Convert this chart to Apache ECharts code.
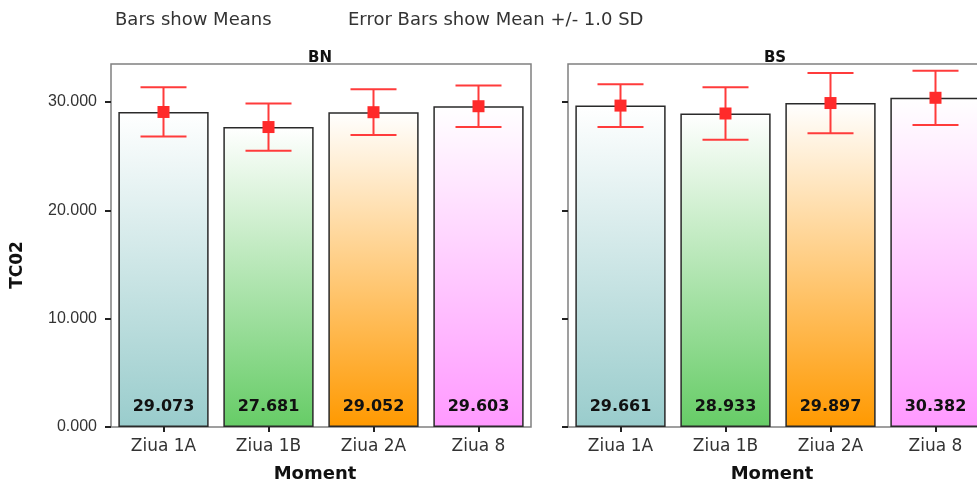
<!DOCTYPE html>
<html>
<head>
<meta charset="utf-8">
<script src="https://cdn.jsdelivr.net/npm/echarts@6/dist/echarts.min.js"></script>
<style>
  html, body { margin: 0; padding: 0; background: #fff; }
  #chart { width: 977px; height: 487px; }
</style>
</head>
<body>
<div id="chart"></div>
<script>
// Categories and per-panel statistics (means and standard deviations of TC02)
const moments = ['Ziua 1A', 'Ziua 1B', 'Ziua 2A', 'Ziua 8'];
const panelNames = ['BN', 'BS'];
const meansBN = [29.073, 27.681, 29.052, 29.603];
const sdBN = [2.27, 2.18, 2.11, 1.91];
const meansBS = [29.661, 28.933, 29.897, 30.382];
const sdBS = [1.97, 2.42, 2.78, 2.50];
const yTicks = [0, 10, 20, 30];

const barColors = ['#99cccc', '#66cc66', '#ff9900', '#ff99ff'];
const FONT = '"DejaVu Sans", Verdana, sans-serif';
const TICK_FONT = '"Liberation Sans", Arial, sans-serif';

function gradient(c) {
  return new echarts.graphic.LinearGradient(0, 0, 0, 1, [
    { offset: 0, color: '#ffffff' },
    { offset: 1, color: c }
  ]);
}

function barData(means) {
  return means.map((v, i) => ({
    value: v,
    itemStyle: { color: gradient(barColors[i]) }
  }));
}

function errData(means, sds) {
  return means.map((m, i) => [i, m, sds[i]]);
}

// Error bar: vertical whisker with caps at mean +/- 1 SD and a square marker at the mean
function renderErr(params, api) {
  const x = api.value(0);
  const m = api.value(1);
  const s = api.value(2);
  const top = api.coord([x, m + s]);
  const bot = api.coord([x, m - s]);
  const mid = api.coord([x, m]);
  const cap = 23;
  const line = { stroke: '#ff3b3b', lineWidth: 2 };
  return {
    type: 'group',
    children: [
      { type: 'line', shape: { x1: top[0], y1: top[1], x2: bot[0], y2: bot[1] }, style: line },
      { type: 'line', shape: { x1: top[0] - cap, y1: top[1], x2: top[0] + cap, y2: top[1] }, style: line },
      { type: 'line', shape: { x1: bot[0] - cap, y1: bot[1], x2: bot[0] + cap, y2: bot[1] }, style: line },
      { type: 'rect', shape: { x: mid[0] - 6, y: mid[1] - 6, width: 12, height: 12 }, style: { fill: '#ff2a2a' } }
    ]
  };
}

const grids = [
  { left: 111, top: 64, width: 420, height: 363 },
  { left: 568, top: 64, width: 420, height: 363 }
];

const chart = echarts.init(document.getElementById('chart'), null, { renderer: 'canvas' });

const xAxes = grids.map((g, i) => ({
  type: 'category',
  gridIndex: i,
  data: moments,
  name: 'Moment',
  nameLocation: 'middle',
  nameGap: 38,
  nameTextStyle: { fontFamily: FONT, fontWeight: 'bold', fontSize: 18, color: '#111', padding: [0, 12, 0, 0] },
  axisLine: { show: false },
  axisTick: { show: true, alignWithLabel: true, length: 5, lineStyle: { color: '#222', width: 2 } },
  axisLabel: { fontFamily: FONT, fontSize: 17, color: '#333', margin: 11 }
}));

const yAxes = grids.map((g, i) => ({
  type: 'value',
  gridIndex: i,
  min: 0,
  max: 33.5,
  interval: 10,
  axisLine: { show: false },
  splitLine: { show: false },
  axisTick: { show: true, length: 6, customValues: yTicks, lineStyle: { color: '#222', width: 2 } },
  axisLabel: {
    show: i === 0,
    customValues: yTicks,
    fontFamily: TICK_FONT, fontSize: 16, color: '#333', margin: 14,
    formatter: v => v.toFixed(3)
  }
}));

const series = [];
[meansBN, meansBS].forEach((means, i) => {
  const sds = i === 0 ? sdBN : sdBS;
  series.push({
    type: 'bar',
    xAxisIndex: i,
    yAxisIndex: i,
    data: barData(means),
    barCategoryGap: '14%',
    itemStyle: { borderColor: '#2a2a2a', borderWidth: 1.5 },
    label: {
      show: true,
      position: 'insideBottom',
      distance: 12,
      fontFamily: FONT,
      fontWeight: 'bold',
      fontSize: 16,
      color: '#111',
      formatter: p => p.value.toFixed(3)
    },
    silent: true
  });
  series.push({
    type: 'custom',
    xAxisIndex: i,
    yAxisIndex: i,
    data: errData(means, sds),
    renderItem: renderErr,
    z: 5,
    silent: true
  });
});

chart.setOption({
  animation: false,
  backgroundColor: '#ffffff',
  grid: grids.map(g => Object.assign({
    show: true, borderColor: '#808080', borderWidth: 1.5,
    backgroundColor: 'transparent', outerBoundsMode: 'none', containLabel: false
  }, g)),
  xAxis: xAxes,
  yAxis: yAxes,
  series: series,
  title: [
    { text: 'Bars show Means', left: 110, top: 6, textStyle: { fontFamily: FONT, fontWeight: 'normal', fontSize: 18, color: '#333' } },
    { text: 'Error Bars show Mean +/- 1.0 SD', left: 343, top: 6, textStyle: { fontFamily: FONT, fontWeight: 'normal', fontSize: 18, color: '#333' } },
    { text: panelNames[0], left: 315, top: 46, textAlign: 'center', textStyle: { fontFamily: FONT, fontWeight: 'bold', fontSize: 15, color: '#111' } },
    { text: panelNames[1], left: 770, top: 46, textAlign: 'center', textStyle: { fontFamily: FONT, fontWeight: 'bold', fontSize: 15, color: '#111' } }
  ],
  graphic: [
    {
      type: 'text',
      x: 18, y: 265,
      rotation: Math.PI / 2,
      style: { text: 'TC02', fontFamily: FONT, fontWeight: 'bold', fontSize: 17, fill: '#111', align: 'center', verticalAlign: 'middle' }
    }
  ]
});
</script>
</body>
</html>
